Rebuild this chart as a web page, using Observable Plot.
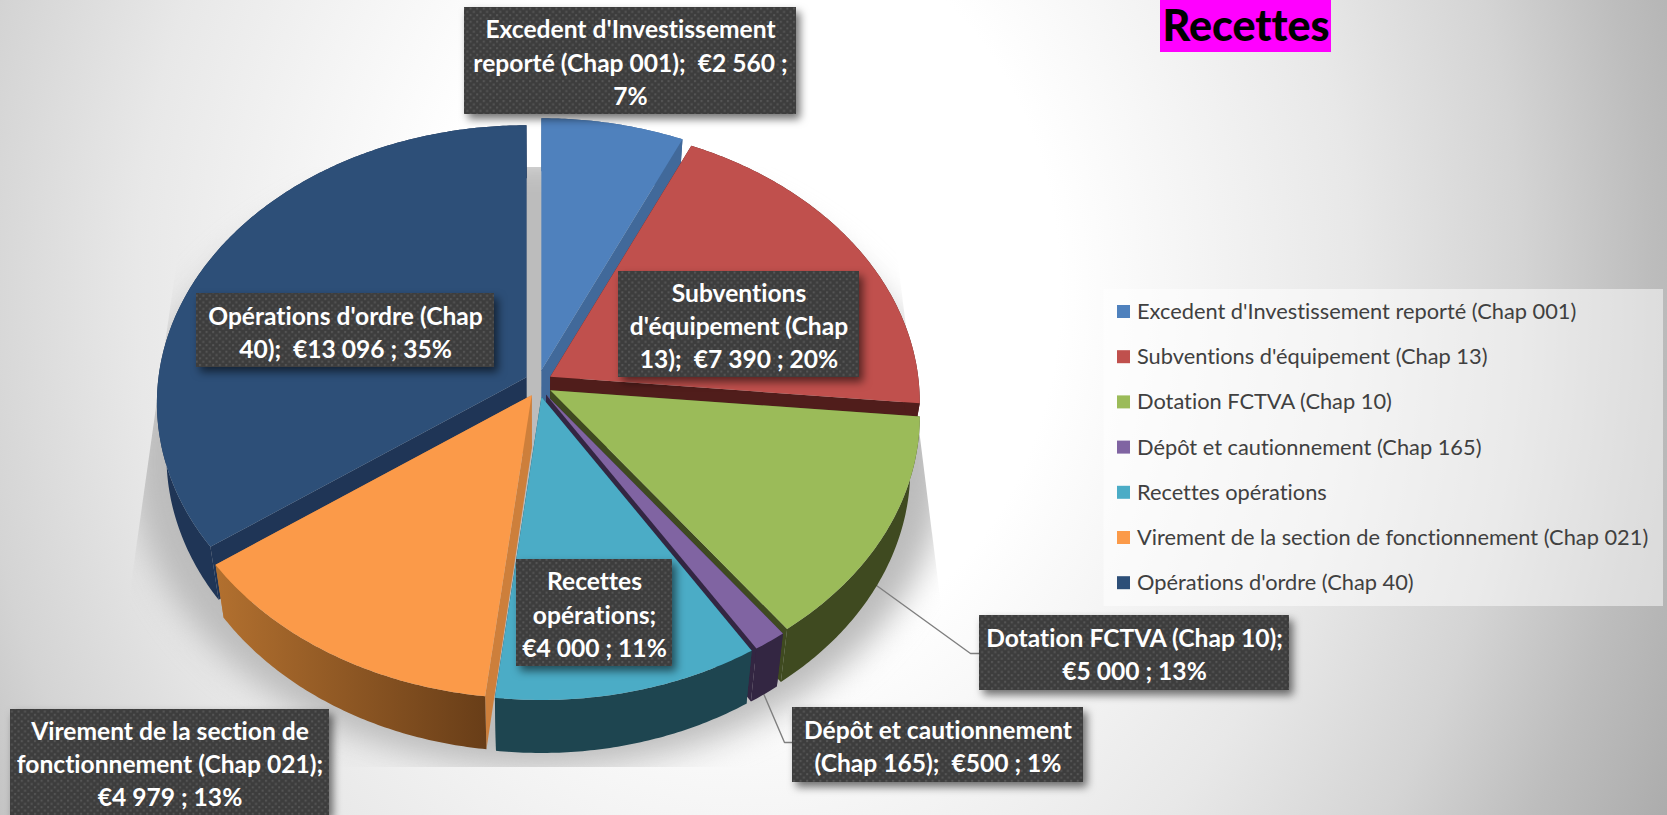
<!DOCTYPE html>
<html lang="fr">
<head>
<meta charset="utf-8">
<title>Recettes</title>
<script src="https://cdn.jsdelivr.net/npm/d3@7"></script>
<script src="https://cdn.jsdelivr.net/npm/@observablehq/plot@0.6"></script>
<style>
  html, body { margin: 0; padding: 0; overflow: hidden; background: #fff; }
  svg { display: block; }
</style>
</head>
<body>
<div id="chart"></div>
<script>
// ---- data ----
const categories = [
  "Excedent d'Investissement reporté (Chap 001)",
  "Subventions d'équipement (Chap 13)",
  "Dotation FCTVA (Chap 10)",
  "Dépôt et cautionnement (Chap 165)",
  "Recettes opérations",
  "Virement de la section de fonctionnement (Chap 021)",
  "Opérations d'ordre (Chap 40)"
];
const values = [2560, 7390, 5000, 500, 4000, 4979, 13096];
const dataLabels = [
  "Excedent d'Investissement\nreporté (Chap 001);  €2 560 ;\n7%",
  "Subventions\nd'équipement (Chap\n13);  €7 390 ; 20%",
  "Dotation FCTVA (Chap 10);\n€5 000 ; 13%",
  "Dépôt et cautionnement\n(Chap 165);  €500 ; 1%",
  "Recettes\nopérations;\n€4 000 ; 11%",
  "Virement de la section de\nfonctionnement (Chap 021);\n€4 979 ; 13%",
  "Opérations d'ordre (Chap\n40);  €13 096 ; 35%"
];
const title = "Recettes";

// ---- styles ----
const topColors  = ["#4F81BD", "#C0504D", "#9BBB59", "#8064A2", "#4BACC6", "#FB9A49", "#2D4F78"];
const faceColors = ["#41699A", "#501D1B", "#3F4A20", "#332642", "#1E4550", "#CD7F3B", "#1F3556"];
const sideColors = ["#41699A", "#501D1B", "#3F4A20", "#332642", "#1E4550", "url(#orangeSide)", "#1F3556"];
const paintOrder = [0, 6, 1, 2, 5, 3, 4];

// ---- layout ----
const W = 1667, H = 815;
const pieCenter = {x: 538, y: 383}, explode = 13.5;
const A = 368, B = 275.3, P = 0.0923, DEPTH = 53, SHRINK = 0.975;
const labelBoxes = [
  {x1: 464, x2: 796, y1: 7, y2: 114},
  {x1: 618, x2: 859, y1: 271, y2: 377},
  {x1: 979, x2: 1289, y1: 615, y2: 690},
  {x1: 792, x2: 1083, y1: 707, y2: 782},
  {x1: 516, x2: 672, y1: 559, y2: 666},
  {x1: 10, x2: 329, y1: 709, y2: 815},
  {x1: 196, x2: 494, y1: 293, y2: 367}
];
const leaders = [
  [{x: 876, y: 585}, {x: 970, y: 653}, {x: 979, y: 653}],
  [{x: 763, y: 693}, {x: 784, y: 742}, {x: 792, y: 742}]
];
const legendRow = i => 311.5 + 45.2 * i;

// ---- geometry derived from the values ----
const slices = d3.pie().sort(null).startAngle(0).endAngle(2 * Math.PI)(values);
const project = (o, a, r = 1) => {
  const u = r * Math.sin(a), v = -r * Math.cos(a), w = 1 - P * v;
  return {x: o.x + A * u / w, y: o.y + B * v / w};
};
const down = p => ({x: pieCenter.x + (p.x - pieCenter.x) * SHRINK, y: p.y + DEPTH});
const arc = (o, a0, a1, r = 1) => {
  const n = Math.max(2, Math.ceil(Math.abs(a1 - a0) / 0.01));
  return d3.range(n + 1).map(k => project(o, a0 + (a1 - a0) * k / n, r));
};
const poly = (pts, fill, opts = {}) => Plot.line(pts, {x: "x", y: "y", fill, stroke: "none", ...opts});

const sliceMarks = paintOrder.flatMap(i => {
  const s = slices[i], mid = (s.startAngle + s.endAngle) / 2;
  const o = {x: pieCenter.x + explode * Math.sin(mid), y: pieCenter.y - explode * Math.cos(mid)};
  const outer = arc(o, s.startAngle, s.endAngle);
  const first = outer[0], last = outer[outer.length - 1];
  return [
    poly([o, first, down(first), down(o)], faceColors[i]),
    poly([o, last, down(last), down(o)], faceColors[i]),
    poly([...outer, ...outer.map(down).reverse()], sideColors[i]),
    poly([o, ...outer], topColors[i])
  ];
});

const shadowShape = arc({x: pieCenter.x, y: pieCenter.y + 48}, 0, 2 * Math.PI, 1.1);
const labelData = dataLabels.map((text, i) => ({
  text, ...labelBoxes[i],
  cx: (labelBoxes[i].x1 + labelBoxes[i].x2) / 2,
  cy: (labelBoxes[i].y1 + labelBoxes[i].y2) / 2
}));
const legendData = categories.map((name, i) => ({name, color: topColors[i], row: legendRow(i)}));

const defs = () => {
  const ns = "http://www.w3.org/2000/svg";
  const d = document.createElementNS(ns, "defs");
  d.innerHTML = `
    <linearGradient id="orangeSide" gradientUnits="userSpaceOnUse" x1="215" x2="484" y1="0" y2="0">
      <stop offset="0" stop-color="#B2702F"/><stop offset="1" stop-color="#693E18"/>
    </linearGradient>
    <pattern id="dots" patternUnits="userSpaceOnUse" width="6.6" height="6.6">
      <rect width="6.6" height="6.6" fill="#3D3D3D"/>
      <rect x="1" y="1" width="2" height="2" fill="#565656"/>
      <rect x="4.3" y="4.3" width="2" height="2" fill="#565656"/>
    </pattern>
    <clipPath id="shadowClip"><polygon points="190,167 886,167 937,573 960,767 110,767 133,570"/></clipPath>`;
  return d;
};

const plot = Plot.plot({
  width: W, height: H, margin: 0,
  x: {domain: [0, W], range: [0, W], axis: null},
  y: {domain: [0, H], range: [0, H], axis: null},
  style: {background: "radial-gradient(ellipse 1050px 1250px at 745px 290px, #ffffff 0%, #ffffff 30%, #e8e8e8 58%, #d4d4d4 74%, #bdbdbd 86%, #a8a8a8 100%)", fontFamily: "Lato, sans-serif", fontVariantLigatures: "none"},
  marks: [
    defs,
    poly(shadowShape, "#bcbcbc", {imageFilter: "blur(16px)"}),
    ...leaders.map(l => Plot.line(l, {x: "x", y: "y", stroke: "#7F7F7F", strokeWidth: 1.4})),
    ...sliceMarks,
    // legend
    Plot.rect([0], {x1: 1103.5, x2: 1663, y1: 289, y2: 606, fill: "#fff", fillOpacity: 0.5}),
    Plot.rect(legendData, {x1: () => 1117, x2: () => 1130, y1: d => d.row - 6.5, y2: d => d.row + 6.5, fill: "color"}),
    Plot.text(legendData, {x: () => 1136.5, y: "row", text: "name", textAnchor: "start", fontSize: 21.8, fill: "#404040"}),
    // data labels
    Plot.rect(labelData, {x1: "x1", x2: "x2", y1: "y1", y2: "y2", fill: "url(#dots)", imageFilter: "drop-shadow(4px 5px 4px rgba(0,0,0,.55))"}),
    Plot.text(labelData, {x: "cx", y: "cy", text: "text", fill: "#fff", fontSize: 24.6, fontWeight: 700, lineHeight: 1.35}),
    // title
    Plot.rect([0], {x1: 1160, x2: 1331, y1: 0, y2: 52, fill: "#FF00FF"}),
    Plot.text([title], {x: () => 1245.5, y: () => 27, text: d => d, fill: "#000", fontSize: 43, fontWeight: 900})
  ]
});
// the pie's cast shadow is the first line mark: keep its blur inside a clipping group
const sh = plot.querySelector('g[aria-label="line"]');
if (sh) {
  const wrap = document.createElementNS("http://www.w3.org/2000/svg", "g");
  wrap.setAttribute("clip-path", "url(#shadowClip)");
  sh.parentNode.insertBefore(wrap, sh);
  wrap.appendChild(sh);
}
document.getElementById("chart").appendChild(plot);
</script>
</body>
</html>
